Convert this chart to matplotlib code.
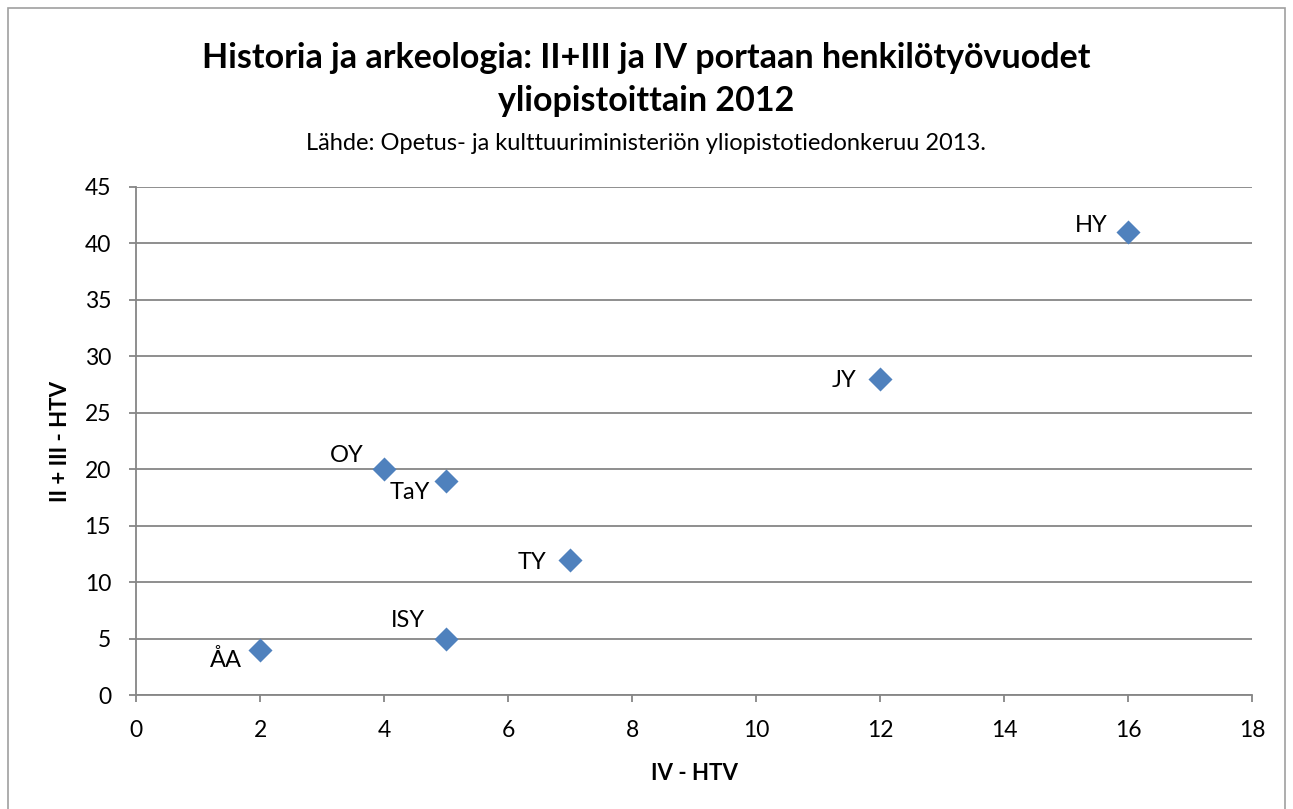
import matplotlib.pyplot as plt
from matplotlib.patches import Rectangle

plt.rcParams['font.family'] = ['Lato', 'DejaVu Sans']

universities = ['ÅA', 'ISY', 'TY', 'TaY', 'OY', 'JY', 'HY']
iv_htv = [2, 5, 7, 5, 4, 12, 16]
ii_iii_htv = [4, 5, 12, 19, 20, 28, 41]
# label offsets in pixels (right edge of text relative to the marker)
label_offsets = [(-18, -10), (-21, 18), (-24, -3), (-16, -12), (-20, 14), (-24, -2), (-20, 7)]

x_ticks = list(range(0, 19, 2))
y_ticks = list(range(0, 46, 5))

fig = plt.figure(figsize=(12.93, 8.09), dpi=100)
ax = fig.add_axes([0.1052, 0.1409, 0.8631, 0.628])

grid_color = '#868686'
ax.scatter(iv_htv, ii_iii_htv, marker='D', s=150, color='#4F81BD', zorder=3, linewidths=0)
for name, x, y, off in zip(universities, iv_htv, ii_iii_htv, label_offsets):
    ax.annotate(name, (x, y), xytext=off, textcoords='offset pixels',
                ha='right', va='center', fontsize=17)

ax.set_xlim(0, 18)
ax.set_ylim(0, 45)
ax.set_xticks(x_ticks)
ax.set_yticks(y_ticks)
ax.grid(axis='y', color=grid_color, linewidth=1.3)
ax.set_axisbelow(True)
for side in ['top', 'right']:
    ax.spines[side].set_visible(False)
for side in ['left', 'bottom']:
    ax.spines[side].set_color(grid_color)
    ax.spines[side].set_linewidth(1.3)
ax.tick_params(colors=grid_color, labelcolor='black', labelsize=16.5, length=5, width=1.3)
ax.tick_params(axis='x', pad=13)
ax.tick_params(axis='y', pad=13)

ax.set_xlabel('IV - HTV', fontsize=16, fontweight='bold', labelpad=16)
ax.set_ylabel('II + III - HTV', fontsize=16, fontweight='bold', labelpad=10)

fig.text(0.5, 1 - 58 / 809, 'Historia ja arkeologia: II+III ja IV portaan henkilötyövuodet',
         ha='center', va='center', fontsize=24.5, fontweight='bold')
fig.text(0.5, 1 - 101 / 809, 'yliopistoittain 2012',
         ha='center', va='center', fontsize=24.5, fontweight='bold')
fig.text(0.5, 1 - 143 / 809, 'Lähde: Opetus- ja kulttuuriministeriön yliopistotiedonkeruu 2013.',
         ha='center', va='center', fontsize=17)

fig.patches.append(Rectangle((8 / 1293, -0.01), 1277 / 1293, 1 - 8 / 809 + 0.01,
                             transform=fig.transFigure, fill=False,
                             edgecolor='#A0A0A0', linewidth=1.2))

fig.savefig('out.png', dpi=100)
